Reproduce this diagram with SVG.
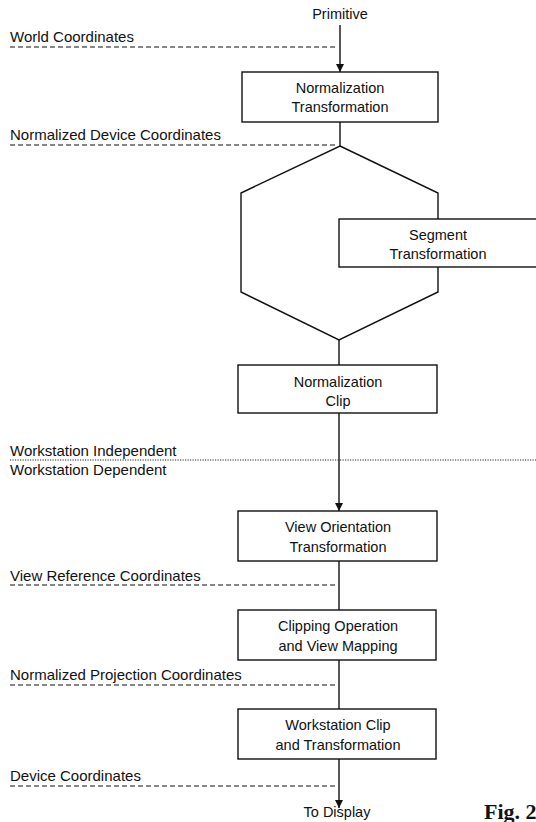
<svg xmlns="http://www.w3.org/2000/svg" width="536" height="822" viewBox="0 0 536 822">
  <style>
    .box { fill: #fff; stroke: #111; stroke-width: 1.4; }
    .hex { fill: #fff; stroke: #111; stroke-width: 1.4; }
    .flow { stroke: #111; stroke-width: 1.4; fill: none; }
    .dash { stroke: #111; stroke-width: 1.1; stroke-dasharray: 5 3; fill: none; }
    .dot { stroke: #222; stroke-width: 1; stroke-dasharray: 1.2 1.3; fill: none; }
    .t { font-family: "Liberation Sans", Arial, sans-serif; font-size: 14.5px; fill: #111; text-anchor: middle; }
    .lbl { font-family: "Liberation Sans", Arial, sans-serif; font-size: 15px; fill: #111; }
    .fig { font-family: "Liberation Serif", "Times New Roman", serif; font-size: 22px; font-weight: bold; fill: #111; }
  </style>
  <defs>
    <marker id="arrow" viewBox="0 0 10 10" refX="10" refY="5" markerWidth="8" markerHeight="8" markerUnits="userSpaceOnUse" orient="auto">
      <path d="M0,0 L10,5 L0,10 Z" fill="#111"/>
    </marker>
  </defs>

  <!-- coordinate-system boundaries -->
  <g id="levels">
    <text class="lbl" x="10" y="42">World Coordinates</text>
    <line class="dash" x1="10" y1="47" x2="338" y2="47"/>
    <text class="lbl" x="10" y="140">Normalized Device Coordinates</text>
    <line class="dash" x1="10" y1="145" x2="338" y2="145"/>
    <text class="lbl" x="10" y="456">Workstation Independent</text>
    <line class="dot" x1="10" y1="460" x2="536" y2="460"/>
    <text class="lbl" x="10" y="475">Workstation Dependent</text>
    <text class="lbl" x="10" y="581">View Reference Coordinates</text>
    <line class="dash" x1="10" y1="585" x2="338" y2="585"/>
    <text class="lbl" x="10" y="680">Normalized Projection Coordinates</text>
    <line class="dash" x1="10" y1="685" x2="338" y2="685"/>
    <text class="lbl" x="10" y="781">Device Coordinates</text>
    <line class="dash" x1="10" y1="786" x2="338" y2="786"/>
  </g>

  <!-- connectors -->
  <g id="connectors">
    <line class="flow" x1="340" y1="25" x2="340" y2="72" marker-end="url(#arrow)"/>
    <line class="flow" x1="340" y1="122" x2="340" y2="146"/>
    <line class="flow" x1="339" y1="340" x2="339" y2="365"/>
    <line class="flow" x1="339" y1="413" x2="339" y2="511" marker-end="url(#arrow)"/>
    <line class="flow" x1="339" y1="561" x2="339" y2="610"/>
    <line class="flow" x1="339" y1="660" x2="339" y2="709"/>
    <line class="flow" x1="339" y1="759" x2="339" y2="808" marker-end="url(#arrow)"/>
  </g>

  <g id="primitive">
    <text class="t" x="340" y="19">Primitive</text>
  </g>

  <g id="normalization-transformation">
    <rect class="box" x="242" y="72" width="196" height="50"/>
    <text class="t" x="340" y="93">Normalization</text>
    <text class="t" x="340" y="112">Transformation</text>
  </g>

  <g id="segment-hexagon">
    <polygon class="hex" points="340,146 438,193 438,292 339,340 241,292 241,193"/>
  </g>

  <g id="segment-transformation">
    <rect class="box" x="339" y="219" width="200" height="48"/>
    <text class="t" x="438" y="240">Segment</text>
    <text class="t" x="438" y="259">Transformation</text>
  </g>

  <g id="normalization-clip">
    <rect class="box" x="238" y="365" width="199" height="48"/>
    <text class="t" x="338" y="387">Normalization</text>
    <text class="t" x="338" y="406">Clip</text>
  </g>

  <g id="view-orientation">
    <rect class="box" x="238" y="511" width="199" height="50"/>
    <text class="t" x="338" y="532">View Orientation</text>
    <text class="t" x="338" y="552">Transformation</text>
  </g>

  <g id="clipping-view-mapping">
    <rect class="box" x="238" y="610" width="198" height="50"/>
    <text class="t" x="338" y="631">Clipping Operation</text>
    <text class="t" x="338" y="651">and View Mapping</text>
  </g>

  <g id="workstation-clip">
    <rect class="box" x="238" y="709" width="198" height="50"/>
    <text class="t" x="338" y="730">Workstation Clip</text>
    <text class="t" x="338" y="750">and Transformation</text>
  </g>

  <g id="to-display">
    <text class="t" x="337" y="817">To Display</text>
  </g>

  <text class="fig" x="484" y="819">Fig. 2</text>
</svg>
